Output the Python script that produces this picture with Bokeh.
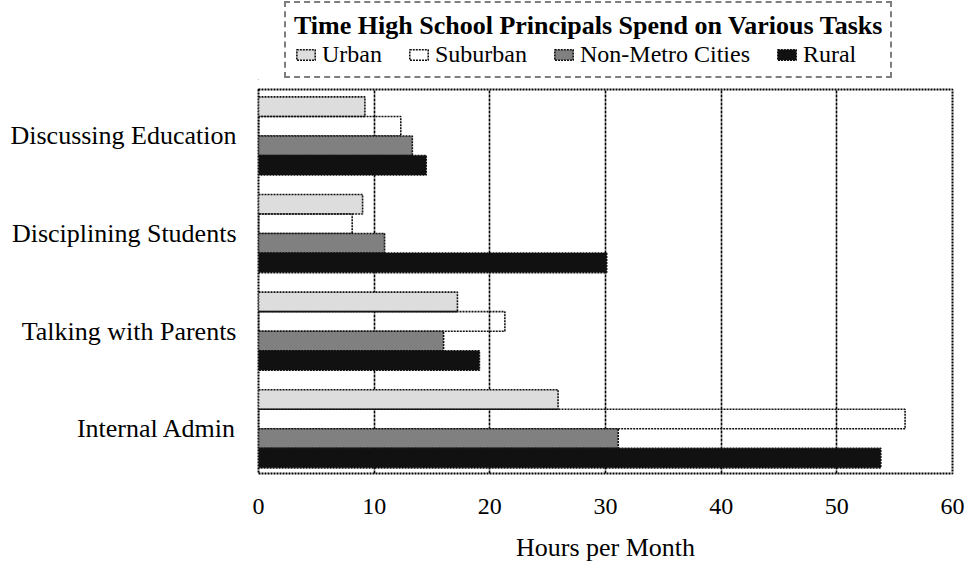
from bokeh.plotting import figure
from bokeh.layouts import column
from bokeh.models import ColumnDataSource, Legend, LegendItem, FixedTicker, Range1d
from bokeh.embed import file_html
from bokeh.resources import INLINE

chart_title = "Time High School Principals Spend on Various Tasks"
tasks = ["Discussing Education", "Disciplining Students", "Talking with Parents", "Internal Admin"]
series_names = ["Urban", "Suburban", "Non-Metro Cities", "Rural"]
urban = [9.2, 9.0, 17.2, 25.9]
suburban = [12.3, 8.1, 21.3, 55.9]
nonmetro = [13.3, 10.9, 16.0, 31.1]
rural = [14.5, 30.1, 19.1, 53.8]
x_ticks = [0, 10, 20, 30, 40, 50, 60]
x_label = "Hours per Month"

values = [urban, suburban, nonmetro, rural]
fills = ["#dddddd", "#ffffff", "#808080", "#111111"]
fill_alphas = [1.0, 0.0, 1.0, 1.0]
offsets = [0.3, 0.1, -0.1, -0.3]
bar_h = 0.2
FONT = "Liberation Serif"
BAR_LINE = dict(line_color="#111111", line_width=1.6, line_dash="2 1")

n = len(tasks)
centers = [n - 1 - i for i in range(n)]

W = 968
LEG_H = 80
H = 565 - LEG_H
TOP, BOTTOM, LEFT, RIGHT = 9, 92, 258, 16

# ---- legend strip (separate figure above the chart; frames are aligned) ----
lf = figure(width=W, height=LEG_H, x_range=Range1d(0, 1), y_range=Range1d(0, 1),
            x_axis_type=None, y_axis_type=None,
            output_backend="svg", toolbar_location=None,
            min_border_left=0, min_border_right=0, min_border_top=0, min_border_bottom=0)
lf.outline_line_color = None
lf.grid.visible = False
leg_items = []
for name, fc, fa in zip(series_names, fills, fill_alphas):
    # placeholder glyphs outside the visible range, used only for legend swatches
    r = lf.hbar(y=[-5], right=[-5], left=-6, height=bar_h,
                fill_color=fc, fill_alpha=fa, **BAR_LINE)
    leg_items.append(LegendItem(label=name, renderers=[r]))

legend = Legend(items=leg_items, orientation="horizontal",
                location=(26, 2),
                title=chart_title,
                title_text_font=FONT, title_text_font_size="26px",
                title_text_font_style="bold", title_text_color="black",
                title_standoff=0,
                label_text_font=FONT, label_text_font_size="24px",
                label_text_color="black",
                glyph_width=23, glyph_height=13, label_standoff=5,
                spacing=25, padding=8, margin=0,
                border_line_color="black", border_line_width=2.2,
                border_line_dash="2 1",
                background_fill_color="white", background_fill_alpha=1.0)
lf.add_layout(legend)

# ---- main chart ----
p = figure(width=W, height=H,
           x_range=Range1d(0, 60), y_range=Range1d(-0.458, n - 1 + 0.476),
           output_backend="svg", toolbar_location=None,
           min_border_left=LEFT, min_border_right=RIGHT, min_border_bottom=BOTTOM,
           min_border_top=TOP)

for name, vals, fc, fa, off in zip(series_names, values, fills, fill_alphas, offsets):
    src = ColumnDataSource(dict(y=[c + off for c in centers], right=vals))
    p.hbar(y="y", right="right", left=0, height=bar_h, source=src,
           fill_color=fc, fill_alpha=fa, **BAR_LINE)

p.xaxis.ticker = FixedTicker(ticks=x_ticks)
p.xaxis.axis_label = x_label
p.xaxis.axis_label_text_font = FONT
p.xaxis.axis_label_text_font_size = "26px"
p.xaxis.axis_label_text_font_style = "normal"
p.xaxis.axis_label_text_color = "black"
p.xaxis.axis_label_standoff = 16
p.xaxis.major_label_text_font = FONT
p.xaxis.major_label_text_font_size = "24px"
p.xaxis.major_label_text_color = "black"
p.xaxis.major_label_standoff = 19
p.xaxis.axis_line_color = None
p.xaxis.major_tick_line_color = None
p.xaxis.minor_tick_line_color = None

p.yaxis.ticker = FixedTicker(ticks=centers)
p.yaxis.major_label_overrides = {c: t for c, t in zip(centers, tasks)}
p.yaxis.major_label_text_font = FONT
p.yaxis.major_label_text_font_size = "26px"
p.yaxis.major_label_text_color = "black"
p.yaxis.major_label_standoff = 16
p.yaxis.axis_line_color = None
p.yaxis.major_tick_line_color = None
p.yaxis.minor_tick_line_color = None

p.ygrid.visible = False
p.xgrid.ticker = FixedTicker(ticks=x_ticks[1:-1])
p.xgrid.grid_line_color = "black"
p.xgrid.grid_line_width = 1.6
p.xgrid.grid_line_dash = "3 1"

p.outline_line_color = "black"
p.outline_line_width = 2
p.outline_line_dash = "2 1"
p.background_fill_color = "white"
p.border_fill_color = "white"

layout = column(lf, p, spacing=0)
open("out.html", "w").write(file_html(layout, INLINE))
